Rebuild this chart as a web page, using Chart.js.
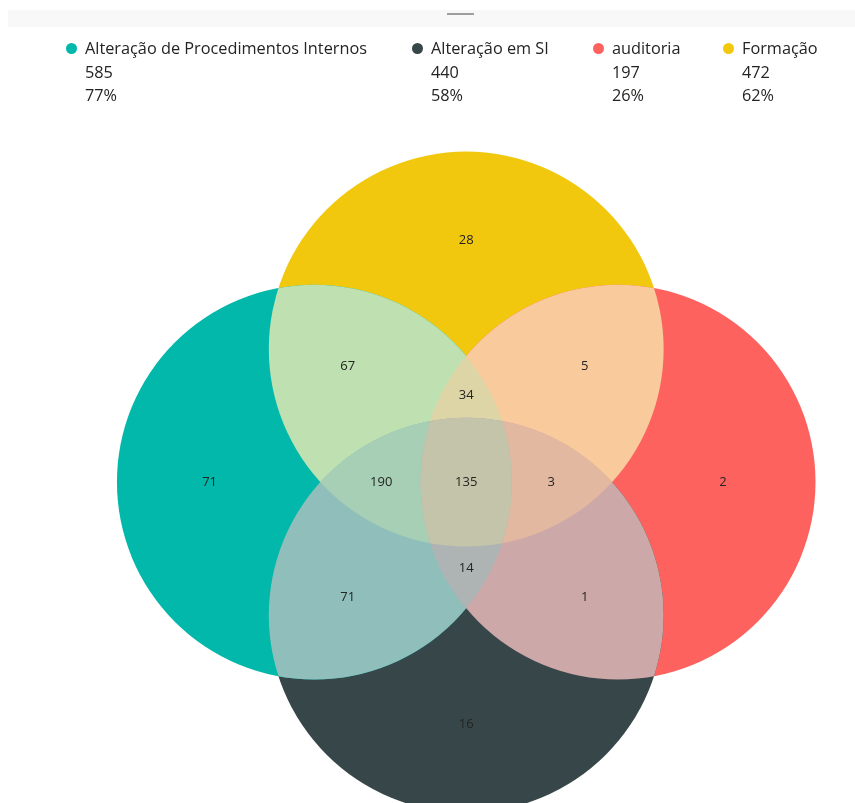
<!DOCTYPE html>
<html>
<head>
<meta charset="utf-8">
<script src="https://cdn.jsdelivr.net/npm/chart.js@4.4.1/dist/chart.umd.min.js"></script>
<style>
  body { margin: 0; background: #fff; font-family: "Open Sans", "Noto Sans", sans-serif; }
  #wrap { position: relative; width: 855px; height: 803px; overflow: hidden; }
  #venn { position: absolute; left: 0; top: 0; }
  #header { position: absolute; left: 8px; top: 10px; width: 847px; height: 17px; background: #f8f8f8; }
  #header div { position: absolute; left: 439px; top: 3px; width: 27px; height: 2px; background: #9e9e9e; }
  .item { position: absolute; top: 37px; font-size: 16.3px; line-height: 23.5px; color: #252423; }
  .item .dot { position: absolute; left: 0; top: 6px; width: 11px; height: 11px; border-radius: 50%; }
  .item .txt { padding-left: 19px; white-space: nowrap; }
</style>
</head>
<body>
<div id="wrap">
  <div id="header"><div></div></div>
  <canvas id="venn" width="855" height="803"></canvas>
  <div id="legend"></div>
</div>
<script>
// Sets (legend)
const setNames = ["Alteração de Procedimentos Internos", "Alteração em SI", "auditoria", "Formação"];
const setTotals = [585, 440, 197, 472];
const setShares = ["77%", "58%", "26%", "62%"];
const setColors = ["#01B8AA", "#374649", "#FD625E", "#F2C80F"];

// Regions: which sets overlap, and the count shown there
const regionSets = [[3], [0, 3], [2, 3], [0, 2, 3], [0], [0, 1, 3], [0, 1, 2, 3], [1, 2, 3], [2], [0, 1], [0, 1, 2], [1, 2], [1]];
const regionValues = [28, 67, 5, 34, 71, 190, 135, 3, 2, 71, 14, 1, 16];
const regionColors = [null, "#BFE0B0", "#F8CA9C", "#DDD5A6", null, "#A6CFB5", "#C4C4AA", "#E2B8A0", null, "#90BEBB", "#AEB4B4", "#CDA8A8", null];

// Circle layout in data units
const circleX = [-1, 0, 1, 0];
const circleY = [0, -0.875, 0, 0.875];
const circleR = 1.3;

// Legend
const legendLeft = [66, 412, 593, 723];
const legend = document.getElementById("legend");
setNames.forEach((name, i) => {
  const item = document.createElement("div");
  item.className = "item";
  item.style.left = legendLeft[i] + "px";
  item.innerHTML = `<span class="dot" style="background:${setColors[i]}"></span>` +
    `<div class="txt">${name}</div><div class="txt">${setTotals[i]}</div><div class="txt">${setShares[i]}</div>`;
  legend.appendChild(item);
});

// Label spot for each region: the point deepest inside it (largest margin to every circle edge)
function regionCentres() {
  const best = regionSets.map(() => ({ x: 0, y: 0, m: -Infinity }));
  const masks = regionSets.map(s => s.reduce((m, k) => m | (1 << k), 0));
  for (let px = -2.5; px <= 2.5; px += 0.01) {
    for (let py = -2.3; py <= 2.3; py += 0.01) {
      let mask = 0, margin = Infinity;
      for (let k = 0; k < 4; k++) {
        const d = Math.hypot(px - circleX[k], py - circleY[k]);
        if (d < circleR) mask |= 1 << k;
        margin = Math.min(margin, Math.abs(circleR - d));
      }
      const idx = masks.indexOf(mask);
      if (idx >= 0 && margin > best[idx].m) best[idx] = { x: px, y: py, m: margin };
    }
  }
  return best;
}
const centres = regionCentres();

const vennPlugin = {
  id: "vennRegions",
  afterDatasetsDraw(chart) {
    const { ctx, chartArea, scales: { x, y } } = chart;
    const u = x.getPixelForValue(1) - x.getPixelForValue(0);
    // overlaps: smaller combinations first, so deeper overlaps paint on top
    const order = regionSets.map((s, i) => i)
      .filter(i => regionSets[i].length > 1)
      .sort((a, b) => regionSets[a].length - regionSets[b].length);
    order.forEach(i => {
      ctx.save();
      regionSets[i].forEach(k => {
        ctx.beginPath();
        ctx.arc(x.getPixelForValue(circleX[k]), y.getPixelForValue(circleY[k]), circleR * u, 0, Math.PI * 2);
        ctx.clip();
      });
      ctx.fillStyle = regionColors[i];
      ctx.fillRect(chartArea.left, chartArea.top, chartArea.width, chartArea.height);
      ctx.restore();
    });

    ctx.save();
    ctx.font = '13px "Open Sans", "Noto Sans", sans-serif';
    ctx.fillStyle = "#252423";
    ctx.textAlign = "center";
    ctx.textBaseline = "middle";
    regionValues.forEach((v, i) => {
      ctx.fillText(String(v), x.getPixelForValue(centres[i].x), y.getPixelForValue(centres[i].y));
    });
    ctx.restore();
  }
};

const vennChart = new Chart(document.getElementById("venn").getContext("2d"), {
  type: "bubble",
  data: {
    datasets: setNames.map((name, i) => ({
      label: name,
      data: [{ x: circleX[i], y: circleY[i], r: 0 }],
      backgroundColor: setColors[i],
      borderWidth: 0,
      clip: false,
    })),
  },
  options: {
    responsive: false,
    animation: false,
    events: [],
    layout: { padding: 0, autoPadding: false },
    scales: {
      x: { type: "linear", min: -3.07, max: 2.56, display: false },
      y: { type: "linear", min: -2.11, max: 3.17, display: false },
    },
    plugins: { legend: { display: false }, tooltip: { enabled: false } },
  },
  plugins: [vennPlugin],
});

// Bubble radius is in pixels, so convert the circle radius through the x scale
const xs = vennChart.scales.x;
const radiusPx = circleR * (xs.getPixelForValue(1) - xs.getPixelForValue(0));
vennChart.data.datasets.forEach(ds => { ds.data[0].r = radiusPx; });
vennChart.update();
</script>
</body>
</html>
